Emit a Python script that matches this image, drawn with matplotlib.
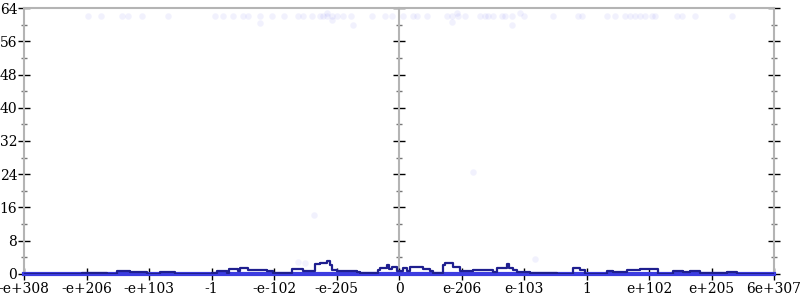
import matplotlib.pyplot as plt

# x is measured in histogram bins (0..750) across the full double range
tick_pos = [0, 62.5, 125, 187.5, 250, 312.5, 375, 437.5, 500, 562.5, 625, 687.5, 750]
tick_labels = ["-e+308", "-e+206", "-e+103", "-1", "-e-102", "-e-205", "0",
               "e-206", "e-103", "1", "e+102", "e+205", "6e+307"]

# rolling count (dark line)
roll_x = [0, 58, 83, 93, 106, 123, 136, 151, 188, 193, 203, 205, 214, 216, 224,
          229, 243, 249, 268, 279, 283, 291, 296, 303, 306, 308, 313, 333, 336,
          354, 356, 363, 365, 368, 373, 379, 383, 386, 399, 406, 409, 419, 421,
          429, 436, 449, 469, 473, 483, 485, 489, 493, 506, 533, 549, 556, 561,
          583, 589, 603, 616, 634, 649, 659, 666, 676, 703, 713, 750]
roll_y = [0.05, 0.35, 0.05, 0.8, 0.4, 0.05, 0.4, 0.05, 0.3, 0.8, 0.3, 1.3, 0.8,
          1.4, 0.9, 1.0, 0.7, 0.3, 1.2, 0.8, 0.6, 2.3, 2.6, 3.1, 2.2, 1.0, 0.8,
          0.4, 0.2, 1.0, 1.4, 2.1, 1.2, 1.6, 0.8, 1.4, 0.8, 1.8, 1.2, 0.8, 0.2,
          2.2, 2.7, 1.8, 0.8, 1.0, 0.5, 1.4, 2.3, 1.4, 0.9, 0.5, 0.3, 0.1, 1.4,
          1.0, 0.05, 0.8, 0.5, 1.0, 1.3, 0.1, 0.8, 0.5, 0.8, 0.2, 0.5, 0.1, 0.1]

# baseline count (bright line)
base_x = [0, 750]
base_y = [0, 0]

# faint individual samples
dots_x = [64, 77, 98, 104, 118, 144, 191, 199, 209, 219, 224, 236, 248, 260,
          274, 279, 288, 296, 299, 303, 308, 313, 319, 327, 348, 361, 368,
          379, 389, 393, 403, 423, 428, 434, 441, 456, 461, 464, 469, 478, 481,
          488, 500, 529, 554, 558, 583, 591, 601, 606, 611, 616, 621, 628, 631,
          653, 658, 671, 708,
          236, 308, 329, 303, 428, 433, 488, 496, 290, 274, 281, 511, 449]
dots_y = [62.1] * 59 + [60.5, 61.0, 60.0, 62.9, 60.7, 62.9, 59.9, 62.9,
                        14.2, 2.9, 2.7, 3.6, 24.5]

fig = plt.figure(figsize=(8, 3), dpi=100)
ax = fig.add_axes([0.03, 0.0867, 0.9375, 0.8866])

ax.scatter(dots_x, dots_y, s=22, color="#5555ee", alpha=0.08, linewidths=0)
ax.plot(base_x, base_y, color="#3c3ce0", linewidth=3, clip_on=False, zorder=3)
ax.plot(roll_x, roll_y, color="#1f1f8f", linewidth=1.6, drawstyle="steps-post",
        zorder=4)

ax.set_xlim(0, 750)
ax.set_ylim(0, 64)
ax.set_xticks(tick_pos)
ax.set_xticklabels(tick_labels)
ax.set_yticks(range(0, 65, 8))
ax.set_yticks(range(4, 64, 8), minor=True)

for s in ax.spines.values():
    s.set_color("#b4b4b4")
    s.set_linewidth(1.5)

ax.tick_params(which="major", direction="inout", length=9, width=1, color="black",
               labelsize=10, pad=0.3, right=True)
ax.tick_params(axis="x", which="major", pad=1.5)
ax.tick_params(which="minor", direction="inout", length=5, width=1, color="#777777",
               right=True)
for lab in ax.get_xticklabels() + ax.get_yticklabels():
    lab.set_family("DejaVu Serif")

mid = ax.secondary_yaxis(0.5)
mid.set_yticks(range(0, 65, 8))
mid.set_yticks(range(4, 64, 8), minor=True)
mid.set_yticklabels([])
mid.spines["right"].set_color("#b4b4b4")
mid.spines["right"].set_linewidth(1.5)
mid.tick_params(which="major", direction="inout", length=9, width=1, color="black")
mid.tick_params(which="minor", direction="inout", length=5, width=1, color="#777777")

fig.savefig("out.png")
